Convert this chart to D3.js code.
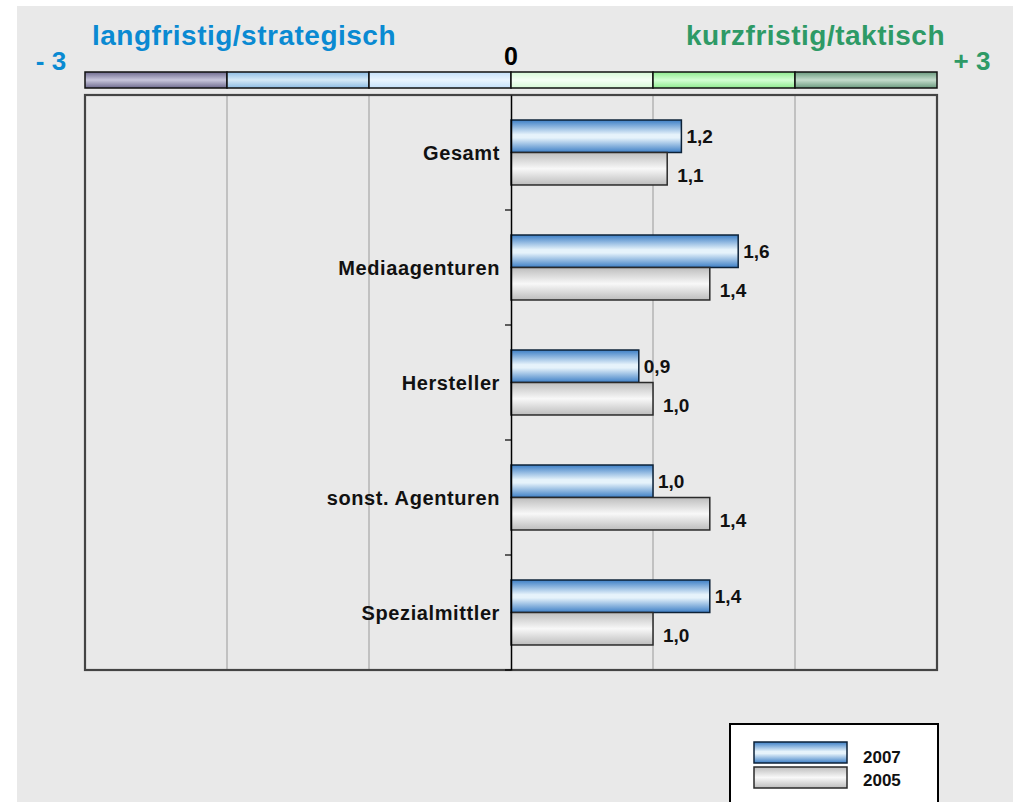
<!DOCTYPE html>
<html>
<head>
<meta charset="utf-8">
<script src="https://cdn.jsdelivr.net/npm/d3@7"></script>
<style>
  body { margin: 0; background: #fff; }
  svg { display: block; }
  text { font-family: Arial, "Liberation Sans", sans-serif; font-weight: bold; }
</style>
</head>
<body>
<script>
// data
var categories = ["Gesamt", "Mediaagenturen", "Hersteller", "sonst. Agenturen", "Spezialmittler"];
var values2007 = [1.2, 1.6, 0.9, 1.0, 1.4];
var values2005 = [1.1, 1.4, 1.0, 1.4, 1.0];
var seriesNames = ["2007", "2005"];
var scaleTicks = [-3, -2, -1, 0, 1, 2, 3];

var width = 1013, height = 802;
var plot = { left: 85, right: 937, top: 95, bottom: 670 };

var svg = d3.select("body").append("svg")
    .attr("width", width)
    .attr("height", height);

var defs = svg.append("defs");

function vGrad(id, stops) {
    var g = defs.append("linearGradient")
        .attr("id", id)
        .attr("x1", 0).attr("y1", 0).attr("x2", 0).attr("y2", 1);
    stops.forEach(function(s) {
        g.append("stop").attr("offset", s[0]).attr("stop-color", s[1]);
    });
}

vGrad("g2007", [[0, "#3d7fc6"], [0.45, "#e6f3fb"], [0.55, "#e6f3fb"], [1, "#3d7fc6"]]);
vGrad("g2005", [[0, "#bdbdbd"], [0.5, "#f8f8f8"], [1, "#bdbdbd"]]);

var stripColors = [
    ["#6e6a8e", "#c8c6dc"],
    ["#8dbce4", "#d6eaf8"],
    ["#c4e0fa", "#eaf5ff"],
    ["#d6f8d6", "#f6fff6"],
    ["#8eea8e", "#d4ffd4"],
    ["#6a9a7e", "#c4dccc"]
];
stripColors.forEach(function(c, i) {
    vGrad("strip" + i, [[0, c[0]], [0.5, c[1]], [1, c[0]]]);
});

// background
svg.append("rect")
    .attr("x", 17).attr("y", 6)
    .attr("width", width - 17).attr("height", height - 6)
    .attr("fill", "#e9e9e9");

var x = d3.scaleLinear()
    .domain([-3, 3])
    .range([plot.left, plot.right]);

var y0 = d3.scaleBand()
    .domain(categories)
    .range([plot.top, plot.bottom]);

var y1 = d3.scaleBand()
    .domain(seriesNames)
    .range([0, y0.bandwidth()])
    .paddingOuter(0.77)
    .paddingInner(0);

// color strip above plot
svg.append("g").selectAll("rect")
    .data(d3.range(6))
    .enter().append("rect")
    .attr("x", function(d) { return x(scaleTicks[d]); })
    .attr("y", 72)
    .attr("width", function(d) { return x(scaleTicks[d + 1]) - x(scaleTicks[d]); })
    .attr("height", 16)
    .attr("fill", function(d) { return "url(#strip" + d + ")"; })
    .attr("stroke", "#111")
    .attr("stroke-width", 1.5);

// grid lines
svg.append("g").selectAll("line")
    .data([-2, -1, 1, 2])
    .enter().append("line")
    .attr("x1", function(d) { return x(d); })
    .attr("x2", function(d) { return x(d); })
    .attr("y1", plot.top)
    .attr("y2", plot.bottom)
    .attr("stroke", "#999")
    .attr("stroke-width", 1);

// frame
svg.append("rect")
    .attr("x", plot.left).attr("y", plot.top)
    .attr("width", plot.right - plot.left)
    .attr("height", plot.bottom - plot.top)
    .attr("fill", "none")
    .attr("stroke", "#444")
    .attr("stroke-width", 2.2);

// bars
var groups = svg.append("g").selectAll("g")
    .data(categories)
    .enter().append("g")
    .attr("transform", function(d) { return "translate(0," + y0(d) + ")"; });

groups.each(function(cat, i) {
    var g = d3.select(this);
    var rows = [
        { key: "2007", value: values2007[i] },
        { key: "2005", value: values2005[i] }
    ];
    g.selectAll("rect")
        .data(rows)
        .enter().append("rect")
        .attr("x", x(0))
        .attr("y", function(d) { return y1(d.key); })
        .attr("width", function(d) { return x(d.value) - x(0); })
        .attr("height", y1.bandwidth())
        .attr("fill", function(d) { return "url(#g" + d.key + ")"; })
        .attr("stroke", function(d) { return d.key === "2007" ? "#0d2238" : "#2a2a2a"; })
        .attr("stroke-width", 1.5);

    g.selectAll("text.val")
        .data(rows)
        .enter().append("text")
        .attr("class", "val")
        .attr("x", function(d) { return x(d.value) + (d.key === "2007" ? 5 : 10); })
        .attr("y", function(d) { return y1(d.key) + y1.bandwidth() / 2 + (d.key === "2007" ? 7 : 13); })
        .attr("font-size", 19)
        .attr("fill", "#111")
        .text(function(d) { return d3.format(".1f")(d.value).replace(".", ","); });
});

// category axis at zero
var yAxis = d3.axisLeft(y0)
    .tickSize(0)
    .tickPadding(11)
    .tickFormat(function(d) { return d; });

var axisG = svg.append("g")
    .attr("transform", "translate(" + x(0) + ",0)")
    .call(yAxis);
axisG.select(".domain").attr("stroke", "#000").attr("stroke-width", 1.5);
axisG.selectAll("text")
    .attr("font-size", 20)
    .attr("letter-spacing", 0.6)
    .attr("dy", "0.38em")
    .attr("font-family", "Arial, 'Liberation Sans', sans-serif")
    .attr("font-weight", "bold")
    .attr("fill", "#111");

// tick marks between categories
svg.append("g").selectAll("line")
    .data(categories.slice(1).concat(["end"]))
    .enter().append("line")
    .attr("x1", x(0) - 6)
    .attr("x2", x(0))
    .attr("y1", function(d) { return d === "end" ? plot.bottom : y0(d); })
    .attr("y2", function(d) { return d === "end" ? plot.bottom : y0(d); })
    .attr("stroke", "#000")
    .attr("stroke-width", 1.2);

// headings
svg.append("text")
    .attr("x", 92).attr("y", 45)
    .attr("font-size", 28)
    .attr("letter-spacing", 0.5)
    .attr("fill", "#0a8ad2")
    .text("langfristig/strategisch");

svg.append("text")
    .attr("x", 945).attr("y", 45)
    .attr("text-anchor", "end")
    .attr("font-size", 28)
    .attr("letter-spacing", 0.5)
    .attr("fill", "#2e9a66")
    .text("kurzfristig/taktisch");

svg.append("text")
    .attr("x", 51).attr("y", 70)
    .attr("text-anchor", "middle")
    .attr("font-size", 26)
    .attr("fill", "#0a8ad2")
    .text("- 3");

svg.append("text")
    .attr("x", x(0)).attr("y", 65)
    .attr("text-anchor", "middle")
    .attr("font-size", 25)
    .attr("fill", "#000")
    .text("0");

svg.append("text")
    .attr("x", 972).attr("y", 70)
    .attr("text-anchor", "middle")
    .attr("font-size", 26)
    .attr("fill", "#2e9a66")
    .text("+ 3");

// legend
var legend = svg.append("g");
legend.append("rect")
    .attr("x", 730).attr("y", 724)
    .attr("width", 208).attr("height", 90)
    .attr("fill", "#fff")
    .attr("stroke", "#000")
    .attr("stroke-width", 2);

var legendItems = legend.selectAll("g.item")
    .data(seriesNames)
    .enter().append("g")
    .attr("class", "item")
    .attr("transform", function(d, i) { return "translate(754," + (742 + i * 25) + ")"; });

legendItems.append("rect")
    .attr("width", 93).attr("height", 21)
    .attr("fill", function(d) { return "url(#g" + d + ")"; })
    .attr("stroke", function(d) { return d === "2007" ? "#0d2238" : "#2a2a2a"; })
    .attr("stroke-width", 1.5);

legendItems.append("text")
    .attr("x", 109).attr("y", function(d, i) { return i === 0 ? 21 : 19; })
    .attr("font-size", 17)
    .attr("fill", "#111")
    .text(function(d) { return d; });
</script>
</body>
</html>
